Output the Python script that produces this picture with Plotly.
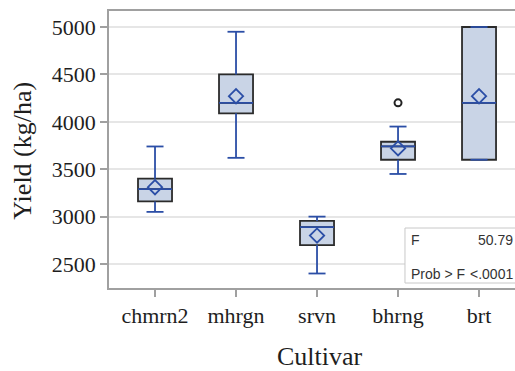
import plotly.graph_objects as go

# Yield summary per cultivar (kg/ha)
cultivars = ["chmrn2", "mhrgn", "srvn", "bhrng", "brt"]
q1 = [3160, 4090, 2700, 3600, 3600]
median = [3290, 4200, 2890, 3740, 4200]
q3 = [3400, 4500, 2955, 3790, 5000]
lower_whisker = [3050, 3620, 2400, 3450, 3600]
upper_whisker = [3740, 4950, 3000, 3950, 5000]
means = [3310, 4270, 2800, 3720, 4270]
outlier_x = ["bhrng"]
outlier_y = [4200]

f_value = "50.79"
p_value = "<.0001"

BLUE = "#2b4ea6"
FILL = "#c9d4e6"
EDGE = "#2b2b2b"
BOX_W = 0.42
CAP_W = 0.21

xs = list(range(len(cultivars)))
pos = {c: i for i, c in enumerate(cultivars)}

fig = go.Figure()

# boxes (interquartile range) with dark outline
fig.add_trace(go.Box(
    x=xs, q1=q1, median=median, q3=q3,
    lowerfence=q1, upperfence=q3,
    width=BOX_W, fillcolor=FILL,
    line=dict(color=EDGE, width=1.8),
    whiskerwidth=0, showlegend=False, hoverinfo="skip",
))

# whiskers, caps and medians in blue
wx, wy = [], []
for i in xs:
    for a, b in ((q3[i], upper_whisker[i]), (q1[i], lower_whisker[i])):
        wx += [i, i, None]
        wy += [a, b, None]
        wx += [i - CAP_W / 2, i + CAP_W / 2, None]
        wy += [b, b, None]
    wx += [i - BOX_W / 2, i + BOX_W / 2, None]
    wy += [median[i], median[i], None]
fig.add_trace(go.Scatter(
    x=wx, y=wy, mode="lines",
    line=dict(color=BLUE, width=1.8),
    showlegend=False, hoverinfo="skip",
))

# means
fig.add_trace(go.Scatter(
    x=xs, y=means, mode="markers",
    marker=dict(symbol="diamond-open", size=11, color=BLUE, line=dict(width=1.8, color=BLUE)),
    showlegend=False, hoverinfo="skip",
))

# outliers
fig.add_trace(go.Scatter(
    x=[pos[c] for c in outlier_x], y=outlier_y, mode="markers",
    marker=dict(symbol="circle-open", size=7, color="#222222", line=dict(width=2, color="#222222")),
    showlegend=False, hoverinfo="skip",
))

# ANOVA inset
fig.add_shape(type="rect", xref="paper", yref="paper",
              x0=0.729, x1=1.05, y0=0.018, y1=0.2166,
              fillcolor="white", line=dict(color="#c8c8c8", width=1), layer="above")
inset_font = dict(family="Liberation Sans, Arial, sans-serif", size=14, color="#333333")
fig.add_annotation(xref="paper", yref="paper", x=0.739, y=0.174, text="F",
                   showarrow=False, xanchor="left", yanchor="middle", font=inset_font)
fig.add_annotation(xref="paper", yref="paper", x=0.9995, y=0.174, text=f_value,
                   showarrow=False, xanchor="right", yanchor="middle", font=inset_font)
fig.add_annotation(xref="paper", yref="paper", x=0.739, y=0.052, text="Prob &gt; F",
                   showarrow=False, xanchor="left", yanchor="middle", font=inset_font)
fig.add_annotation(xref="paper", yref="paper", x=0.9995, y=0.052, text=p_value.replace("<", "&lt;"),
                   showarrow=False, xanchor="right", yanchor="middle", font=inset_font)

serif = "Liberation Serif, Times New Roman, serif"

# axis titles
fig.add_annotation(xref="paper", yref="paper", x=0.5197, y=-0.249, text="Cultivar",
                   showarrow=False, xanchor="center", yanchor="middle",
                   font=dict(size=26, family=serif, color="#1e1e1e"))
fig.add_annotation(xref="paper", yref="paper", x=-0.214, y=0.496, text="Yield (kg/ha)",
                   textangle=-90, showarrow=False, xanchor="center", yanchor="middle",
                   font=dict(size=26, family=serif, color="#1e1e1e"))

fig.update_layout(
    width=515, height=371,
    margin=dict(l=109, r=0, t=11, b=83),
    paper_bgcolor="white", plot_bgcolor="white",
    font=dict(family=serif, color="#1e1e1e"),
    xaxis=dict(
        range=[-0.568, 4.444],
        tickmode="array", tickvals=xs, ticktext=cultivars,
        tickfont=dict(size=22, family=serif),
        ticks="outside", ticklen=7, tickcolor="#a0a0a0", tickwidth=1.5,
        showline=True, linecolor="#a0a0a0", linewidth=1.5, mirror=True,
        showgrid=False, zeroline=False,
    ),
    yaxis=dict(
        range=[2247, 5169],
        tickvals=[2500, 3000, 3500, 4000, 4500, 5000],
        tickfont=dict(size=22, family=serif),
        ticks="outside", ticklen=7, tickcolor="#a0a0a0", tickwidth=1.5,
        showline=True, linecolor="#a0a0a0", linewidth=1.5,
        showgrid=True, gridcolor="#e6e6e6", gridwidth=1.5, zeroline=False,
    ),
)

fig.write_html("out.html")
